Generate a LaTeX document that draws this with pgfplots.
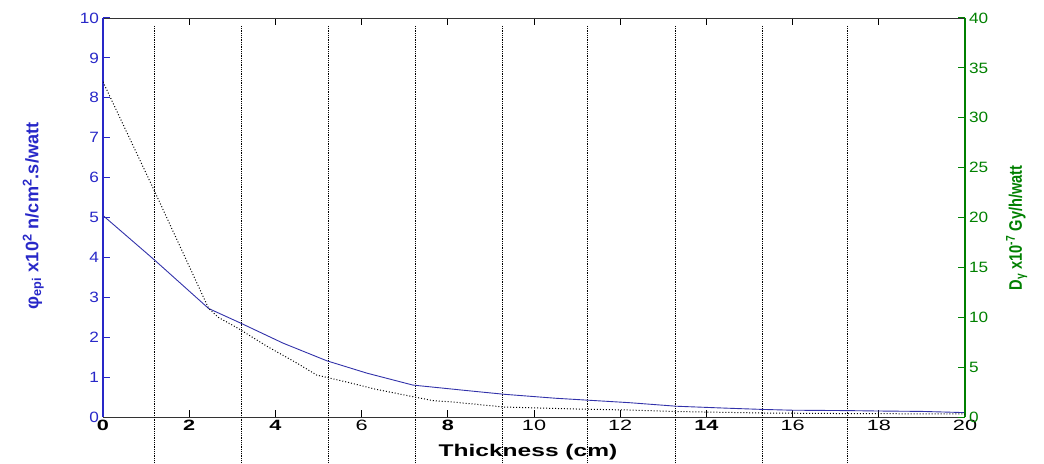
\documentclass[border=0pt]{standalone}
\usepackage{pgfplots}
\pgfplotsset{compat=1.18}
\usepackage{fontspec}
\setmainfont{Liberation Sans}
\definecolor{axblue}{RGB}{40,40,200}
\definecolor{lineblue}{RGB}{50,50,170}
\definecolor{axgreen}{RGB}{0,128,0}
\begin{document}
\begin{tikzpicture}
\path[use as bounding box] (-103bp,-47bp) rectangle (941bp,417bp);
\begin{axis}[
  scale only axis, width=862bp, height=399bp,
  xmin=0, xmax=20, ymin=0, ymax=10,
  axis x line=box, axis y line*=left,
  separate axis lines,
  x axis line style={black!80, line width=0.8pt},
  y axis line style={axblue, line width=1.2pt},
  xtick={0,2,...,20},
  xticklabels={\textbf{0},\textbf{2},\textbf{4},6,\textbf{8},10,12,\textbf{14},16,18,20},
  ytick={0,1,...,10},
  ytick pos=left,
  tick align=inside,
  major tick length=7bp,
  x tick style={black, line width=1pt},
  y tick style={axblue, line width=1pt},
  x tick label style={font=\fontsize{15}{15}\selectfont, xscale=1.45},
  y tick label style={font=\fontsize{15}{15}\selectfont, xscale=1.15, text=axblue},
  /pgf/number format/assume math mode=true,
  xlabel={\textbf{Thickness (cm)}},
  xlabel style={font=\fontsize{17}{17}\selectfont, xscale=1.45, at={(rel axis cs:0.493,0)}, anchor=center, yshift=-35bp},
  ylabel={\textbf{φ\textsubscript{epi} x10\textsuperscript{2} n/cm\textsuperscript{2}.s/watt}},
  ylabel style={font=\fontsize{14}{14}\selectfont, text=axblue, at={(rel axis cs:-0.081,0.504)}, anchor=center, xscale=1.3, yscale=1.3},
  clip=false,
]
\addplot[black, densely dotted, line width=0.8pt, forget plot] coordinates {(1.2,9.8) (1.2,-1.2)};
\addplot[black, densely dotted, line width=0.8pt, forget plot] coordinates {(3.2,9.8) (3.2,-1.2)};
\addplot[black, densely dotted, line width=0.8pt, forget plot] coordinates {(5.22,9.8) (5.22,-1.2)};
\addplot[black, densely dotted, line width=0.8pt, forget plot] coordinates {(7.24,9.8) (7.24,-1.2)};
\addplot[black, densely dotted, line width=0.8pt, forget plot] coordinates {(9.26,9.8) (9.26,-1.2)};
\addplot[black, densely dotted, line width=0.8pt, forget plot] coordinates {(11.25,9.8) (11.25,-1.2)};
\addplot[black, densely dotted, line width=0.8pt, forget plot] coordinates {(13.27,9.8) (13.27,-1.2)};
\addplot[black, densely dotted, line width=0.8pt, forget plot] coordinates {(15.29,9.8) (15.29,-1.2)};
\addplot[black, densely dotted, line width=0.8pt, forget plot] coordinates {(17.28,9.8) (17.28,-1.2)};
\addplot[lineblue, line width=0.9pt] coordinates {
(0,5.05) (1.2,3.93) (2.45,2.72) (3.18,2.36) (4.18,1.85) (5.19,1.41) (6.12,1.10)
(7.19,0.80) (8.28,0.68) (9.3,0.57) (10.5,0.47) (12.2,0.36) (13.3,0.27) (14.5,0.22)
(15.3,0.19) (16,0.17) (17.3,0.16) (18,0.15) (19,0.14) (20,0.11)};
\end{axis}
\begin{axis}[
  scale only axis, width=862bp, height=399bp,
  xmin=0, xmax=20, ymin=0, ymax=40,
  axis x line=none, axis y line*=right,
  y axis line style={axgreen, line width=1.2pt},
  ytick={0,5,...,40},
  tick align=inside,
  major tick length=7bp,
  y tick style={axgreen, line width=1pt},
  y tick label style={font=\fontsize{15}{15}\selectfont, xscale=1.15, text=axgreen},
  /pgf/number format/assume math mode=true,
  ylabel={\textbf{D\textsubscript{γ} x10\textsuperscript{-7} Gy/h/watt}},
  ylabel style={font=\fontsize{14}{14}\selectfont, text=axgreen, at={(rel axis cs:1.06,0.474)}, anchor=center, xscale=1.05, yscale=1.3},
]
\addplot[black, dotted, line width=1pt] coordinates {
(0,33.6) (1.2,22.6) (2.45,10.9) (2.67,10.0) (3.13,8.9) (3.8,7.1) (4.5,5.4) (4.96,4.2)
(5.66,3.5) (6.31,2.8) (7.0,2.2) (7.66,1.64) (8.12,1.5) (9.3,1.0) (11,0.8) (12.2,0.7)
(13.3,0.55) (15.3,0.4) (17,0.35) (20,0.3)};
\end{axis}
\end{tikzpicture}
\end{document}
